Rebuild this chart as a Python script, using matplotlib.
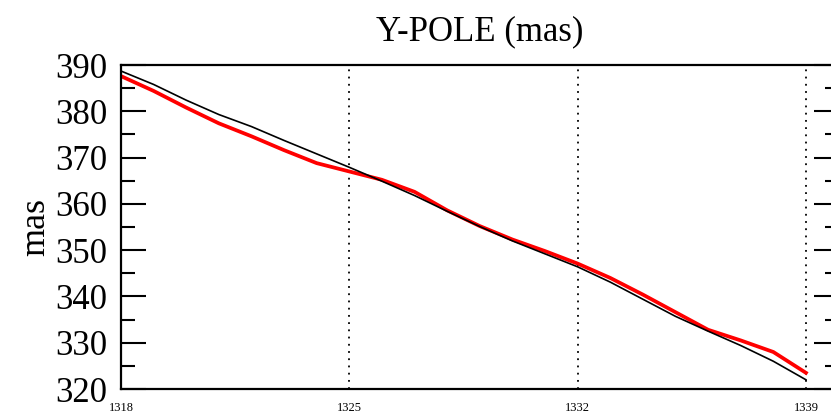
import matplotlib; matplotlib.use("Agg")
import matplotlib.pyplot as plt
from matplotlib.ticker import MultipleLocator

plt.rcParams["font.family"] = ["Liberation Serif", "DejaVu Serif"]

days = [1318, 1319, 1320, 1321, 1322, 1323, 1324, 1325, 1326, 1327, 1328,
        1329, 1330, 1331, 1332, 1333, 1334, 1335, 1336, 1337, 1338, 1339]
ref = [388.7, 385.8, 382.4, 379.3, 376.7, 373.7, 370.8, 367.9, 364.9, 361.8, 358.4,
       355.1, 352.0, 349.2, 346.4, 343.1, 339.4, 335.7, 332.5, 329.4, 326.0, 322.0]
obs = [387.6, 384.4, 380.8, 377.4, 374.6, 371.6, 368.8, 367.0, 365.2, 362.6, 358.6,
       355.2, 352.3, 349.8, 347.1, 344.0, 340.4, 336.6, 332.8, 330.5, 328.0, 323.5]
xticks = [1318, 1325, 1332, 1339]
vlines = [1325, 1332, 1339]

fig = plt.figure(figsize=(8.31, 4.17), dpi=100)
ax = fig.add_axes([0.1456, 0.0671, 0.8635, 0.777])

for d in vlines:
    ax.axvline(d, color="black", ls=(0, (1, 3)), lw=1.3, zorder=1)
ax.plot(days, ref, color="black", lw=1.2, zorder=3)
ax.plot(days, obs, color="#ff0000", lw=2.7, zorder=2)

ax.set_xlim(1318, 1340)
ax.set_ylim(320, 390)
ax.set_xticks(xticks)
ax.set_xticklabels([str(t) for t in xticks], fontsize=9)
ax.yaxis.set_major_locator(MultipleLocator(10))
ax.yaxis.set_minor_locator(MultipleLocator(5))
ax.tick_params(axis="x", length=0, pad=9)
ax.tick_params(axis="y", which="major", direction="in", length=18, width=1.5,
               labelsize=25, pad=10, right=True)
ax.tick_params(axis="y", which="minor", direction="in", length=10, width=1.5, right=True)
for s in ax.spines.values():
    s.set_linewidth(1.6)

ax.set_ylabel("mas", fontsize=26, labelpad=2)
ax.set_title("Y-POLE (mas)", fontsize=25, pad=18)

fig.savefig("out.png", dpi=100)
